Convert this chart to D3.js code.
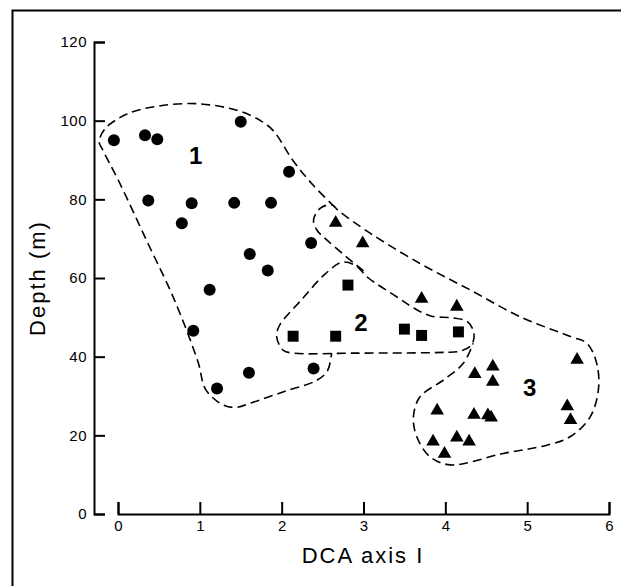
<!DOCTYPE html>
<html>
<head>
<meta charset="utf-8">
<script src="https://cdn.jsdelivr.net/npm/d3@7"></script>
<style>
  html, body { margin: 0; padding: 0; background: #fff; }
  svg { display: block; }
</style>
</head>
<body>
<svg id="chart" width="621" height="586"></svg>
<script>
// ---- Data ----
const xTicks = [0, 1, 2, 3, 4, 5, 6];
const yTicks = [0, 20, 40, 60, 80, 100, 120];

// Group 1 (circles)
const circleX = [-0.05, 0.33, 0.48, 1.50, 2.09, 0.37, 0.90, 1.42, 1.87, 0.78, 2.36, 1.61, 1.83, 1.12, 0.92, 1.60, 2.39, 1.21];
const circleY = [95.0, 96.3, 95.3, 99.7, 87.0, 79.7, 79.0, 79.1, 79.1, 73.9, 68.9, 66.1, 61.9, 57.0, 46.6, 35.9, 37.0, 31.9];

// Group 2 (squares)
const squareX = [2.14, 2.66, 2.81, 3.50, 3.71, 4.16];
const squareY = [45.2, 45.2, 58.2, 47.0, 45.4, 46.3];

// Group 3 (triangles)
const triX = [2.66, 2.99, 3.71, 4.14, 4.58, 4.36, 4.58, 5.61, 3.90, 4.35, 4.52, 4.56, 5.49, 5.53, 3.85, 4.14, 4.29, 3.99];
const triY = [74.0, 68.8, 54.7, 52.7, 37.5, 35.6, 33.6, 39.2, 26.3, 25.2, 25.1, 24.5, 27.4, 23.9, 18.4, 19.4, 18.4, 15.3];

// Group outlines (dashed), in data units
const hull1 = [[2.65,78.0],[2.38,83.7],[2.14,89.8],[1.90,97.4],[1.75,99.9],[1.46,102.6],[0.98,104.3],[0.49,103.7],[0.11,101.7],[-0.16,97.9],[-0.23,94.6],[-0.19,92.7],[0.01,84.6],[0.35,69.5],[0.69,54.4],[0.98,38.5],[1.07,31.7],[1.27,27.9],[1.44,27.1],[1.65,28.4],[2.04,31.2],[2.43,34.0],[2.56,36.4],[2.61,40.9]];
const hull2 = [[4.18,41.4],[3.98,41.1],[2.91,40.9],[2.14,40.9],[2.02,41.6],[1.94,44.9],[1.97,47.8],[2.24,54.4],[2.53,61.0],[2.74,64.0],[2.90,63.2],[3.06,60.0],[3.40,55.3],[3.62,52.3],[3.83,50.3],[4.07,49.9],[4.27,48.9],[4.35,45.9],[4.32,43.0]];
const hull3 = [[3.00,61.8],[2.79,65.4],[2.55,69.7],[2.43,72.2],[2.39,74.8],[2.47,77.7],[2.61,78.6],[2.70,77.0],[3.08,71.4],[3.69,63.7],[4.30,57.0],[4.91,50.2],[5.53,45.1],[5.73,43.4],[5.85,38.3],[5.87,31.5],[5.77,24.7],[5.53,19.7],[5.24,17.5],[4.71,15.4],[4.06,12.5],[3.81,14.6],[3.65,19.7],[3.61,24.7],[3.69,29.8],[3.98,34.1],[4.22,38.3],[4.34,43.4]];

const groupLabels = ["1", "2", "3"];
const groupLabelX = [0.95, 2.97, 5.03];
const groupLabelY = [91.3, 48.7, 32.2];

// ---- Drawing ----
const svg = d3.select("#chart");
const x = d3.scaleLinear().domain([0, 6]).range([118, 609]);
const y = d3.scaleLinear().domain([0, 120]).range([514, 42]);

const font = "'Liberation Sans', Arial, sans-serif";

// frame
svg.append("path")
  .attr("d", "M12.5,586 V10.5 H621")
  .attr("fill", "none").attr("stroke", "#000").attr("stroke-width", 2);

// Y axis (ticks pointing inward)
const yAxis = svg.append("g").attr("transform", "translate(94,0)")
  .call(d3.axisLeft(y).tickValues(yTicks).tickSize(-11).tickSizeOuter(-11).tickPadding(7).tickFormat(d3.format("d")));
yAxis.selectAll("path, line").attr("stroke", "#000").attr("stroke-width", 2);
yAxis.selectAll("text").attr("font-family", font).attr("font-size", 15).attr("fill", "#000")
  .style("letter-spacing", "0.5px");

// X axis (ticks pointing upward)
const xAxis = svg.append("g").attr("transform", "translate(0,514)")
  .call(d3.axisBottom(x).tickValues(xTicks).tickSize(-12).tickSizeOuter(-12).tickPadding(6).tickFormat(d3.format("d")));
xAxis.selectAll("path, line").attr("stroke", "#000").attr("stroke-width", 2);
xAxis.selectAll("text").attr("font-family", font).attr("font-size", 15).attr("fill", "#000");

// Axis titles
svg.append("text")
  .attr("x", 363).attr("y", 563)
  .attr("text-anchor", "middle")
  .attr("font-family", font).attr("font-size", 22)
  .style("letter-spacing", "2px")
  .text("DCA axis I");

svg.append("text")
  .attr("transform", "translate(45,278) rotate(-90)")
  .attr("text-anchor", "middle")
  .attr("font-family", font).attr("font-size", 22)
  .style("letter-spacing", "2px")
  .text("Depth (m)");

// Dashed group outlines
const line = d3.line().x(d => x(d[0])).y(d => y(d[1])).curve(d3.curveCatmullRom.alpha(0.5));
const lineClosed = d3.line().x(d => x(d[0])).y(d => y(d[1])).curve(d3.curveCatmullRomClosed.alpha(0.5));
const hullStyle = sel => sel.attr("fill", "none").attr("stroke", "#000")
  .attr("stroke-width", 1.6).attr("stroke-dasharray", "9,5");
svg.append("path").attr("d", line(hull1)).call(hullStyle);
svg.append("path").attr("d", lineClosed(hull2)).call(hullStyle);
svg.append("path").attr("d", line(hull3)).call(hullStyle);

// Markers
svg.append("g").selectAll("circle")
  .data(d3.range(circleX.length))
  .join("circle")
  .attr("cx", i => x(circleX[i])).attr("cy", i => y(circleY[i]))
  .attr("r", 6).attr("fill", "#000");

const sq = d3.symbol().type(d3.symbolSquare).size(120);
svg.append("g").selectAll("path")
  .data(d3.range(squareX.length))
  .join("path")
  .attr("transform", i => `translate(${x(squareX[i])},${y(squareY[i])})`)
  .attr("d", sq).attr("fill", "#000");

const tri = d3.symbol().type(d3.symbolTriangle).size(80);
svg.append("g").selectAll("path")
  .data(d3.range(triX.length))
  .join("path")
  .attr("transform", i => `translate(${x(triX[i])},${y(triY[i])})`)
  .attr("d", tri).attr("fill", "#000");

// Group numbers
svg.append("g").selectAll("text")
  .data(d3.range(groupLabels.length))
  .join("text")
  .attr("x", i => x(groupLabelX[i])).attr("y", i => y(groupLabelY[i]))
  .attr("dy", "0.36em")
  .attr("text-anchor", "middle")
  .attr("font-family", font).attr("font-weight", "bold").attr("font-size", 24)
  .text(i => groupLabels[i]);
</script>
</body>
</html>
